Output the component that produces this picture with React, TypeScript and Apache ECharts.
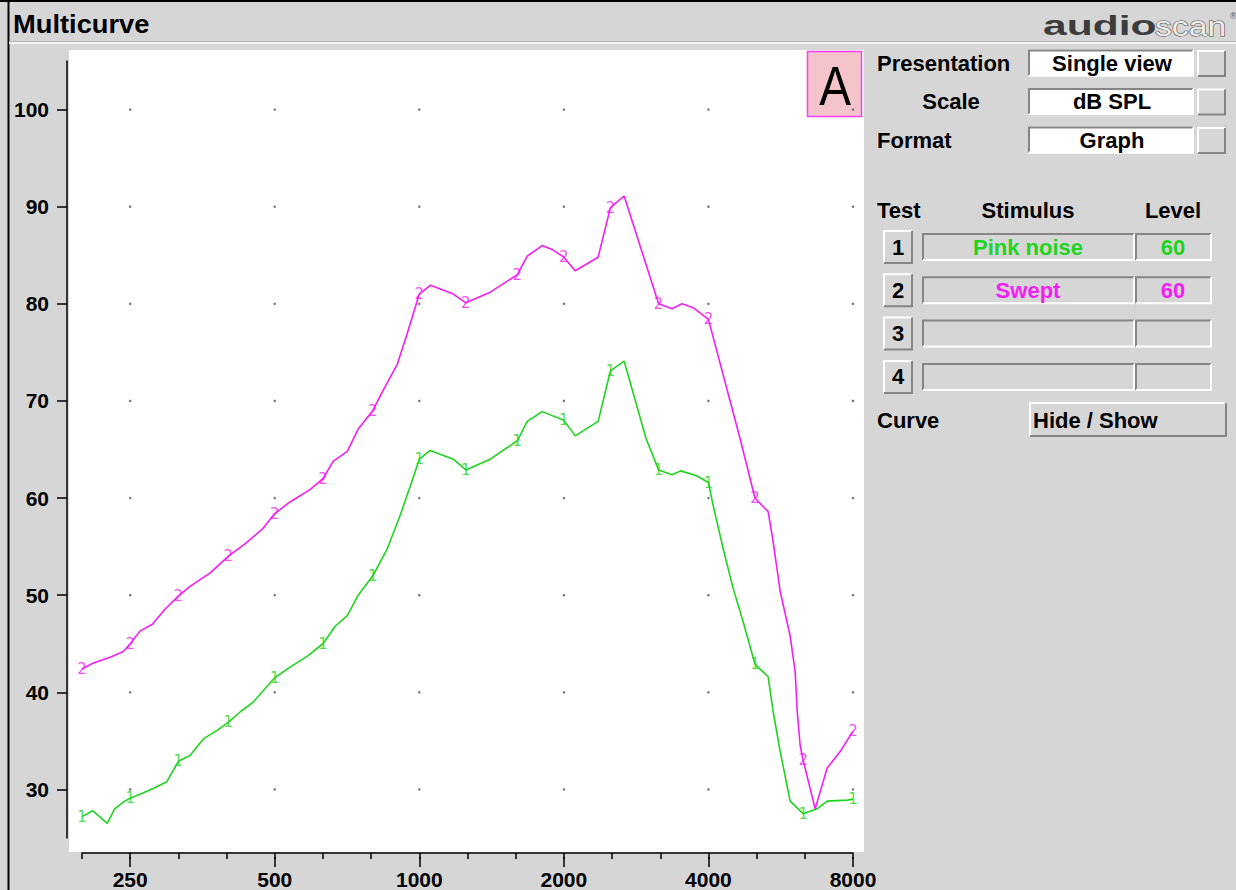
import React, { useEffect, useRef } from "react";
import * as echarts from "echarts";

// ---------- data ----------
const TITLE = "Multicurve";
const X_LABEL_FREQS = [250, 500, 1000, 2000, 4000, 8000];
const X_MINOR_TICK_BANDS = [-1, 0, 1, 2, 3, 4, 5, 6, 7, 8, 9, 10, 11, 12, 13, 14, 15];
const Y_TICKS = [30, 40, 50, 60, 70, 80, 90, 100];
const X_MIN_BAND = -1;
const X_MAX_BAND = 15;
const Y_MIN = 25;
const Y_MAX = 105;

const MARKER_FREQS = [198.4, 250, 315, 400, 500, 630, 800, 1000, 1250, 1600, 2000, 2500, 3150, 4000, 5000, 6300, 8000];

// Test 1: Pink noise 60
const pinkNoiseFreq = [198.4, 209, 224, 232, 242, 250, 265, 279, 298, 315, 333, 355, 380, 400, 424, 451, 500, 538, 584, 630, 668, 708, 746, 800, 858, 912, 957, 1000, 1054, 1177, 1250, 1405, 1600, 1678, 1802, 2000, 2111, 2357, 2500, 2670, 2967, 3150, 3361, 3500, 3780, 4000, 4093, 4292, 4503, 4723, 5000, 5326, 5456, 5643, 5918, 6300, 6737, 7068, 7783, 8000];
const pinkNoiseDb = [27.2, 27.8, 26.5, 28.0, 28.7, 29.1, 29.6, 30.1, 30.8, 32.9, 33.5, 35.2, 36.1, 36.9, 38.0, 39.0, 41.5, 42.6, 43.7, 45.0, 46.8, 47.9, 50.0, 52.0, 54.8, 58.2, 61.2, 64.0, 64.9, 64.0, 62.9, 64.0, 65.9, 67.9, 68.9, 68.0, 66.4, 67.9, 73.1, 74.1, 66.1, 62.9, 62.4, 62.8, 62.3, 61.6, 59.2, 54.8, 50.7, 47.3, 42.9, 41.6, 38.0, 33.9, 28.8, 27.5, 28.0, 28.8, 28.9, 29.0];

// Test 2: Swept 60
const sweptFreq = [198.4, 209, 227, 242, 250, 262, 278, 296, 315, 333, 367, 400, 434, 471, 500, 538, 593, 630, 662, 708, 746, 800, 837, 900, 943, 1000, 1054, 1177, 1250, 1405, 1600, 1678, 1802, 1890, 2000, 2111, 2357, 2500, 2670, 3150, 3361, 3525, 3716, 4000, 4656, 5000, 5326, 5456, 5643, 5918, 6063, 6122, 6211, 6300, 6672, 7068, 7522, 8000];
const sweptDb = [42.4, 43.0, 43.6, 44.2, 45.0, 46.3, 47.0, 48.6, 49.9, 50.9, 52.3, 54.0, 55.3, 56.8, 58.4, 59.6, 60.9, 62.0, 63.8, 64.8, 67.1, 69.0, 70.9, 73.8, 76.9, 81.0, 81.9, 81.0, 80.1, 81.2, 83.0, 84.9, 86.0, 85.6, 84.8, 83.4, 84.8, 89.9, 91.1, 80.0, 79.5, 80.0, 79.6, 78.4, 66.1, 60.0, 58.6, 55.5, 50.4, 45.8, 42.1, 38.0, 34.5, 33.0, 28.0, 32.2, 33.9, 36.0];

const TESTS = [
  { num: "1", stimulus: "Pink noise", level: "60" },
  { num: "2", stimulus: "Swept", level: "60" },
  { num: "3", stimulus: "", level: "" },
  { num: "4", stimulus: "", level: "" },
];
const SETTINGS = [
  { label: "Presentation", value: "Single view" },
  { label: "Scale", value: "dB SPL" },
  { label: "Format", value: "Graph" },
];

// ---------- styles ----------
const GREEN = "#1fd41f";
const MAGENTA = "#f21ef2";
const BG = "#d6d6d6";
const UI_FONT = '"Liberation Sans", Arial, sans-serif';

const band = (f: number) => 3 * Math.log2(f / 250);

function bevel(x: number, y: number, w: number, h: number, fill: string, sunken: boolean): any[] {
  const dark = "#858585";
  const light = "#ffffff";
  const tl = sunken ? dark : light;
  const br = sunken ? light : dark;
  return [
    { type: "rect", shape: { x, y, width: w, height: h }, style: { fill } },
    { type: "polyline", shape: { points: [[x + 1, y + h - 1], [x + 1, y + 1], [x + w - 1, y + 1]] }, style: { stroke: tl, lineWidth: 2, fill: null } },
    { type: "polyline", shape: { points: [[x + 1, y + h - 1], [x + w - 1, y + h - 1], [x + w - 1, y + 1]] }, style: { stroke: br, lineWidth: 2, fill: null } },
  ];
}

function txt(text: string, x: number, y: number, opts: any = {}): any {
  const align = opts.align || "left";
  return {
    type: "text",
    x,
    y,
    z: opts.z ?? 5,
    scaleX: opts.scaleX ?? 1,
    scaleY: opts.scaleY ?? 1,
    style: {
      text,
      font: opts.font || `bold 22px ${UI_FONT}`,
      fill: opts.fill || "#000",
      stroke: opts.stroke,
      lineWidth: opts.lineWidth,
      textAlign: align,
      align,
      textVerticalAlign: "middle",
      verticalAlign: "middle",
    },
  };
}

export default function App() {
  const ref = useRef<HTMLDivElement>(null);

  useEffect(() => {
    if (!ref.current) return;
    const chart = echarts.init(ref.current, undefined, { renderer: "svg" });

    const greenData = pinkNoiseFreq.map((f, i) => [band(f), pinkNoiseDb[i]]);
    const magentaData = sweptFreq.map((f, i) => [band(f), sweptDb[i]]);
    const greenMarks = pinkNoiseFreq
      .map((f, i) => (MARKER_FREQS.includes(f) ? [band(f), pinkNoiseDb[i]] : null))
      .filter(Boolean);
    const magentaMarks = sweptFreq
      .map((f, i) => (MARKER_FREQS.includes(f) ? [band(f), sweptDb[i]] : null))
      .filter(Boolean);
    const dots: number[][] = [];
    X_LABEL_FREQS.forEach((f) => Y_TICKS.forEach((v) => dots.push([band(f), v])));
    const labelBands = X_LABEL_FREQS.map(band);

    const graphics: any[] = [];
    // borders and title bar
    graphics.push({ type: "line", shape: { x1: 0, y1: 1, x2: 1236, y2: 1 }, style: { stroke: "#000", lineWidth: 2 } });
    graphics.push({ type: "line", shape: { x1: 8.5, y1: 0, x2: 8.5, y2: 890 }, style: { stroke: "#000", lineWidth: 2 } });
    graphics.push({ type: "line", shape: { x1: 9, y1: 41.5, x2: 1236, y2: 41.5 }, style: { stroke: "#b0b0b0", lineWidth: 1 } });
    graphics.push({ type: "line", shape: { x1: 9, y1: 43, x2: 1236, y2: 43 }, style: { stroke: "#ffffff", lineWidth: 1.5 } });
    graphics.push(txt(TITLE, 13, 24, { font: `bold 26px ${UI_FONT}`, scaleX: 1.05 }));
    // logo
    graphics.push(txt("audio", 1043, 25, { font: `bold 28px ${UI_FONT}`, fill: "#3c3c3c", scaleX: 1.52 }));
    graphics.push(txt("scan", 1155, 26, { font: `27px ${UI_FONT}`, fill: "#ededed", stroke: "#4a4a4a", lineWidth: 1, scaleX: 1.25 }));
    graphics.push(txt("®", 1230, 16, { font: `9px ${UI_FONT}`, fill: "#555" }));
    // white plot area
    graphics.push({ type: "rect", z: -10, shape: { x: 69, y: 50, width: 795, height: 802 }, style: { fill: "#ffffff" } });
    // "A" box
    graphics.push({ type: "rect", shape: { x: 807.5, y: 51.5, width: 54, height: 65 }, style: { fill: "#f5c4ca", stroke: "#ff3cff", lineWidth: 1.5 } });
    graphics.push(txt("A", 835, 86, { font: `56px ${UI_FONT}`, align: "center", scaleX: 0.85 }));

    // settings rows
    SETTINGS.forEach((s, i) => {
      const cy = 63 + i * 38.5;
      if (s.label === "Scale") graphics.push(txt(s.label, 951, cy, { align: "center" }));
      else graphics.push(txt(s.label, 877, cy));
      graphics.push(...bevel(1028, cy - 13.5, 166, 27, "#ffffff", true));
      graphics.push(txt(s.value, 1112, cy, { align: "center" }));
      graphics.push(...bevel(1197, cy - 13, 29, 27, BG, false));
    });

    // test table
    graphics.push(txt("Test", 877, 210));
    graphics.push(txt("Stimulus", 1028, 210, { align: "center" }));
    graphics.push(txt("Level", 1173, 210, { align: "center" }));
    TESTS.forEach((t, i) => {
      const cy = 247 + i * 43.3;
      const color = i === 0 ? GREEN : i === 1 ? MAGENTA : "#000";
      graphics.push(...bevel(883, cy - 17, 30, 34, BG, false));
      graphics.push(txt(t.num, 898, cy, { align: "center" }));
      graphics.push(...bevel(922, cy - 14, 213, 28, BG, true));
      graphics.push(...bevel(1135, cy - 14, 77, 28, BG, true));
      if (t.stimulus) graphics.push(txt(t.stimulus, 1028, cy, { align: "center", fill: color }));
      if (t.level) graphics.push(txt(t.level, 1173, cy, { align: "center", fill: color }));
    });
    graphics.push(txt("Curve", 877, 420));
    graphics.push(...bevel(1029, 402, 198, 35, BG, false));
    graphics.push(txt("Hide / Show", 1033, 420));

    const gridRect = { left: 82, right: 383, top: 61, bottom: 48 };

    chart.setOption({
      animation: false,
      backgroundColor: BG,
      textStyle: { fontFamily: UI_FONT },
      grid: [
        { ...gridRect, containLabel: false },
        { ...gridRect, containLabel: false },
      ],
      xAxis: [
        {
          type: "value",
          gridIndex: 0,
          min: X_MIN_BAND,
          max: X_MAX_BAND,
          position: "bottom",
          offset: 15,
          axisLine: { show: true, onZero: false, lineStyle: { color: "#000", width: 1.5 } },
          axisTick: { show: true, length: 6, customValues: X_MINOR_TICK_BANDS, lineStyle: { color: "#000", width: 1.5 } },
          axisLabel: {
            show: true,
            customValues: labelBands,
            margin: 16,
            fontSize: 21,
            fontWeight: "bold",
            color: "#000",
            fontFamily: UI_FONT,
            formatter: (v: number) => {
              const idx = labelBands.findIndex((b) => Math.abs(b - v) < 1e-6);
              return idx >= 0 ? String(X_LABEL_FREQS[idx]) : "";
            },
          },
          splitLine: { show: false },
        },
        {
          type: "value",
          gridIndex: 1,
          min: X_MIN_BAND,
          max: X_MAX_BAND,
          position: "bottom",
          offset: 15,
          axisLine: { show: false, onZero: false },
          axisTick: { show: true, length: 10, customValues: labelBands, lineStyle: { color: "#000", width: 1.5 } },
          axisLabel: { show: false },
          splitLine: { show: false },
        },
      ],
      yAxis: [
        {
          type: "value",
          gridIndex: 0,
          min: Y_MIN,
          max: Y_MAX,
          offset: 15,
          axisLine: { show: true, onZero: false, lineStyle: { color: "#000", width: 1.5 } },
          axisTick: { show: true, length: 10, customValues: Y_TICKS, lineStyle: { color: "#000", width: 1.5 } },
          axisLabel: {
            show: true,
            customValues: Y_TICKS,
            margin: 18,
            fontSize: 21,
            fontWeight: "bold",
            color: "#000",
            fontFamily: UI_FONT,
          },
          splitLine: { show: false },
        },
        { type: "value", gridIndex: 1, min: Y_MIN, max: Y_MAX, show: false },
      ],
      graphic: { elements: graphics },
      series: [
        {
          type: "scatter",
          name: "grid",
          data: dots,
          symbolSize: 2.5,
          itemStyle: { color: "#555" },
          silent: true,
          z: 1,
        },
        {
          type: "line",
          name: "Pink noise",
          data: greenData,
          showSymbol: false,
          symbol: "none",
          lineStyle: { color: GREEN, width: 1.6 },
          itemStyle: { color: GREEN },
          z: 3,
        },
        {
          type: "line",
          name: "Swept",
          data: magentaData,
          showSymbol: false,
          symbol: "none",
          lineStyle: { color: MAGENTA, width: 1.6 },
          itemStyle: { color: MAGENTA },
          z: 3,
        },
        {
          type: "scatter",
          name: "Pink noise markers",
          data: greenMarks,
          symbolSize: 1,
          itemStyle: { color: "rgba(0,0,0,0)" },
          label: { show: true, position: "inside", formatter: "1", color: GREEN, fontSize: 15, fontFamily: "DejaVu Sans" },
          z: 4,
        },
        {
          type: "scatter",
          name: "Swept markers",
          data: magentaMarks,
          symbolSize: 1,
          itemStyle: { color: "rgba(0,0,0,0)" },
          label: { show: true, position: "inside", formatter: "2", color: MAGENTA, fontSize: 15, fontFamily: "DejaVu Sans" },
          z: 4,
        },
      ],
    });

    return () => chart.dispose();
  }, []);

  return (
    <div
      ref={ref}
      style={{ position: "fixed", left: 0, top: 0, width: 1236, height: 890 }}
    />
  );
}
